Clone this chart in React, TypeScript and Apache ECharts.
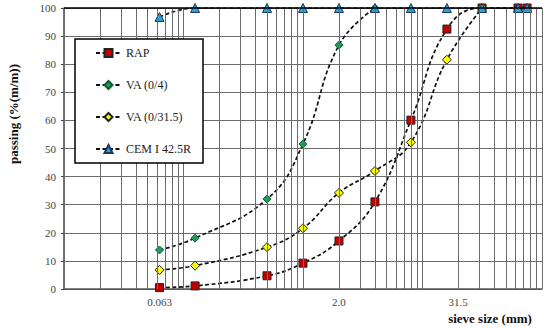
import React, { useEffect, useRef } from "react";
import * as echarts from "echarts";

const sieveSizes = [0.063, 0.125, 0.5, 1, 2, 4, 8, 16, 31.5, 63, 75];
const rapPassing = [0.5, 1.1, 4.7, 9.2, 17.1, 31, 60.1, 92.5, 100, 100, 100];
const va04Passing = [13.9, 18.1, 32, 51.6, 86.8, 100];
const va0315Passing = [6.8, 8.3, 14.9, 21.6, 34.2, 42, 52.2, 81.6, 100];
const cemPassing = [96.8, 100, 100, 100, 100, 100, 100, 100, 100, 100, 100];
const seriesNames = ["RAP", "VA (0/4)", "VA (0/31.5)", "CEM I 42.5R"];
const xTickValues = [0.063, 2, 31.5];
const xTickLabels = ["0.063", "2.0", "31.5"];
const xTickShift = [0, 0, -24];

const SERIF = "'Liberation Serif', 'Times New Roman', serif";

function pairs(vals: number[]) {
  return vals.map((v, i) => [sieveSizes[i], v]);
}

export default function App() {
  const ref = useRef<HTMLDivElement>(null);
  useEffect(() => {
    if (!ref.current) return;
    const chart = echarts.init(ref.current, undefined, { renderer: "svg" });
    const gridValues: number[] = [];
    for (let e = -2; e <= 1; e++) {
      for (let m = 1; m <= 9; m++) gridValues.push(parseFloat((m * Math.pow(10, e)).toPrecision(6)));
    }
    gridValues.push(100);
    const dash = { color: "#111", width: 1.7, type: [4, 2.5] as any };
    const mk = (name: string, vals: number[], symbol: string, size: number, color: string, border: string) => ({
      name,
      type: "line",
      data: pairs(vals),
      smooth: 0.45,
      symbol,
      symbolSize: size,
      showSymbol: true,
      lineStyle: dash,
      itemStyle: { color, borderColor: border, borderWidth: 1 },
      z: 3,
    });
    chart.setOption({
      animation: false,
      grid: { left: 64, right: 8, top: 8, bottom: 39 },
      legend: {
        data: seriesNames,
        orient: "vertical",
        left: 75,
        top: 39,
        itemWidth: 25,
        itemHeight: 10,
        itemGap: 20,
        padding: [8, 12, 8, 20],
        backgroundColor: "#fff",
        borderColor: "#000",
        borderWidth: 1.5,
        borderRadius: 0,
        textStyle: { fontFamily: SERIF, fontSize: 12, color: "#222" },
        z: 10,
      },
      xAxis: {
        type: "log",
        logBase: 10,
        min: 0.01,
        max: 100,
        axisLabel: { show: false },
        axisTick: { show: false },
        splitLine: { show: false },
        axisLine: { show: true, lineStyle: { color: "#555", width: 1.5 } },
      },
      yAxis: {
        type: "value",
        min: 0,
        max: 100,
        interval: 10,
        axisLabel: { fontFamily: SERIF, fontSize: 11, color: "#444", margin: 8 },
        axisTick: { show: true, length: 3, lineStyle: { color: "#444", width: 1 } },
        axisLine: { show: true, lineStyle: { color: "#444", width: 1.5 } },
        splitLine: { show: true, lineStyle: { color: "#6b6b6b", width: 1 } },
      },
      series: [
        {
          name: "grid",
          type: "line",
          data: [],
          silent: true,
          z: 1,
          markLine: {
            silent: true,
            symbol: "none",
            label: { show: false },
            animation: false,
            lineStyle: { color: "#6b6b6b", width: 1, type: "solid" },
            data: [
              ...gridValues.map((v) => ({ xAxis: v })),
              { yAxis: 100, lineStyle: { color: "#000", width: 1.6, type: "solid" } },
            ],
          },
        },
        mk(seriesNames[0], rapPassing, "rect", 8, "#c00000", "#222"),
        mk(seriesNames[1], va04Passing, "diamond", 8, "#1f9e5a", "#0d5a33"),
        mk(seriesNames[2], va0315Passing, "diamond", 9, "#ffff00", "#222"),
        mk(seriesNames[3], cemPassing, "triangle", 9, "#29a3dc", "#1a3a5a"),
      ],
    });
    const baseY = (chart.convertToPixel({ yAxisIndex: 0 }, 0) as number) + 13;
    const texts: any[] = xTickValues.map((v, i) => ({
      type: "text",
      x: (chart.convertToPixel({ xAxisIndex: 0 }, v) as number) + xTickShift[i],
      y: baseY,
      style: {
        text: xTickLabels[i],
        fontFamily: SERIF,
        fontSize: 11,
        fill: "#444",
        align: "center",
        verticalAlign: "middle",
      },
    }));
    texts.push({
      type: "text",
      x: 490,
      y: 318,
      style: {
        text: "sieve size (mm)",
        fontFamily: SERIF,
        fontSize: 13,
        fontWeight: "bold",
        fill: "#111",
        align: "center",
        verticalAlign: "middle",
      },
    });
    texts.push({
      type: "text",
      x: 13,
      y: 114,
      rotation: Math.PI / 2,
      style: {
        text: "passing (%(m/m))",
        fontFamily: SERIF,
        fontSize: 13,
        fontWeight: "bold",
        fill: "#111",
        align: "center",
        verticalAlign: "middle",
      },
    });
    chart.setOption({ graphic: texts });
    return () => chart.dispose();
  }, []);
  return (
    <div
      ref={ref}
      style={{ position: "absolute", left: 0, top: 0, width: 550, height: 328, background: "#fff" }}
    />
  );
}
